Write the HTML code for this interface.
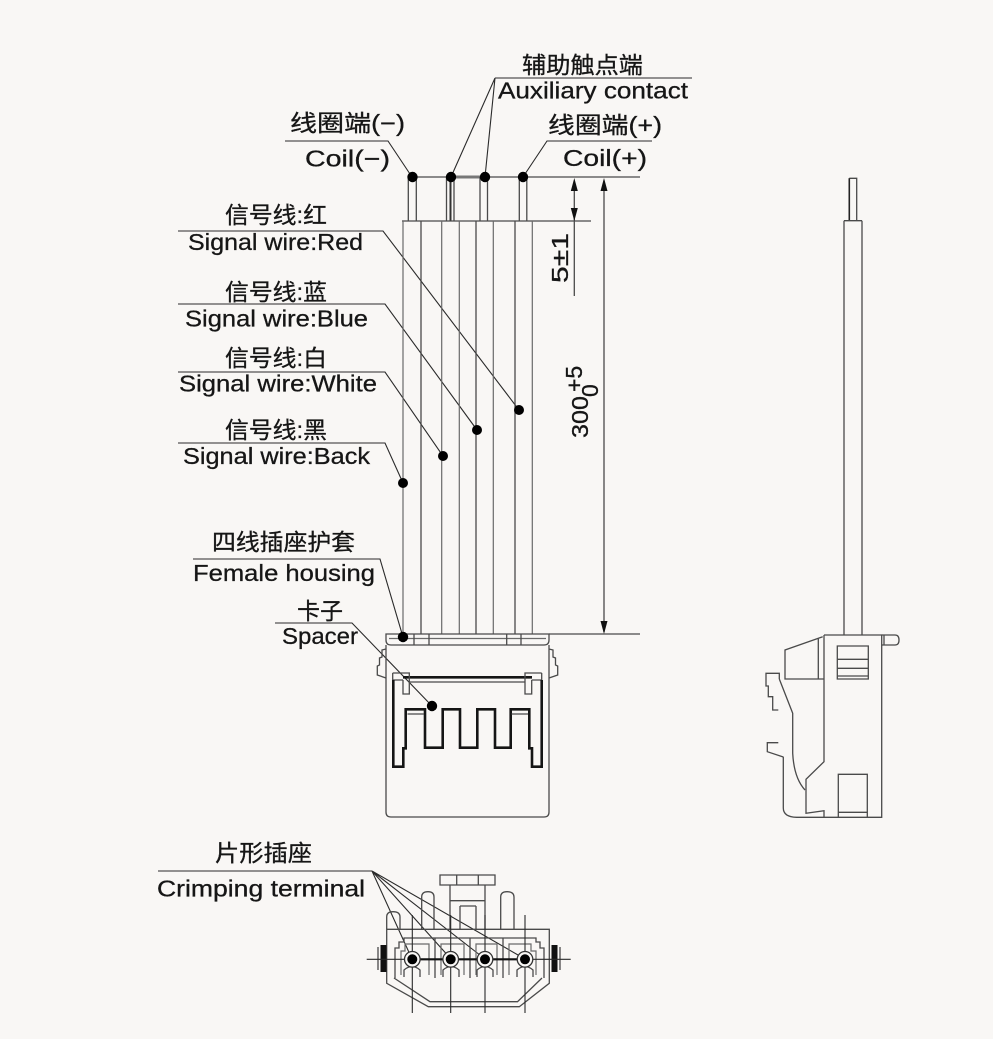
<!DOCTYPE html>
<html><head><meta charset="utf-8"><style>
html,body{margin:0;padding:0;background:#f9f7f5}
svg{display:block}
text{font-family:"Liberation Sans","Noto Sans CJK SC",sans-serif;fill:#161616;stroke:#161616;stroke-width:0.3;font-size:23px}
.l{stroke:#2a2a2a;stroke-width:1.1;fill:none}
.d{stroke:#4a4a4a;stroke-width:1.3;fill:none}
.g{stroke:#6a6a6a;stroke-width:1.2;fill:none}
.t{stroke:#151515;stroke-width:2.6;fill:none}
</style></head><body>
<svg width="993" height="1039" viewBox="0 0 993 1039" xmlns="http://www.w3.org/2000/svg">
<rect x="0" y="0" width="993" height="1039" fill="#f9f7f5"/>

<!-- ===== Labels text ===== -->
<text x="522" y="73" textLength="121" lengthAdjust="spacingAndGlyphs">辅助触点端</text>
<text x="498" y="98.5" textLength="190" lengthAdjust="spacingAndGlyphs">Auxiliary contact</text>
<text x="290" y="131" textLength="115" lengthAdjust="spacingAndGlyphs">线圈端(−)</text>
<text x="305" y="166.5" textLength="85" lengthAdjust="spacingAndGlyphs">Coil(−)</text>
<text x="548" y="133" textLength="114" lengthAdjust="spacingAndGlyphs">线圈端(+)</text>
<text x="563" y="166" textLength="84" lengthAdjust="spacingAndGlyphs">Coil(+)</text>

<text x="225" y="223" textLength="102" lengthAdjust="spacingAndGlyphs">信号线:红</text>
<text x="188" y="250" textLength="175" lengthAdjust="spacingAndGlyphs">Signal wire:Red</text>
<text x="225" y="300" textLength="102" lengthAdjust="spacingAndGlyphs">信号线:蓝</text>
<text x="185" y="326.5" textLength="183" lengthAdjust="spacingAndGlyphs">Signal wire:Blue</text>
<text x="225" y="366" textLength="102" lengthAdjust="spacingAndGlyphs">信号线:白</text>
<text x="179" y="391.5" textLength="198" lengthAdjust="spacingAndGlyphs">Signal wire:White</text>
<text x="225" y="438" textLength="102" lengthAdjust="spacingAndGlyphs">信号线:黑</text>
<text x="183" y="464" textLength="187" lengthAdjust="spacingAndGlyphs">Signal wire:Back</text>

<text x="212" y="550" textLength="143" lengthAdjust="spacingAndGlyphs">四线插座护套</text>
<text x="193" y="581" textLength="182" lengthAdjust="spacingAndGlyphs">Female housing</text>
<text x="297" y="619" textLength="46" lengthAdjust="spacingAndGlyphs">卡子</text>
<text x="282" y="644" textLength="76" lengthAdjust="spacingAndGlyphs">Spacer</text>

<text x="215" y="861" textLength="97" lengthAdjust="spacingAndGlyphs">片形插座</text>
<text x="157" y="896.5" textLength="208" lengthAdjust="spacingAndGlyphs">Crimping terminal</text>

<!-- ===== Leader lines ===== -->
<path class="l" d="M495,78 H692 M495,78 L451,177 M495,78 L485,177"/>
<path class="l" d="M285,141 H388 L412,177"/>
<path class="l" d="M652,141 H547 L523,177"/>
<path class="l" d="M178,231 H383 L519,410"/>
<path class="l" d="M178,304 H385 L477,430"/>
<path class="l" d="M178,372 H385 L443,456"/>
<path class="l" d="M178,443 H385 L403,483"/>
<path class="l" d="M193,559 H380 L403,637"/>
<path class="l" d="M275,623 H352 L432,706"/>
<path class="l" d="M158,871 H372 M372,871 L412,959 M372,871 L451,959 M372,871 L485,959 M372,871 L525,959"/>

<!-- ===== Top wires (front view) ===== -->
<path class="d" d="M412,177 H640"/>
<path d="M451,177 H485" stroke="#777" stroke-width="3" fill="none"/>
<path class="d" d="M408.3,177 V221 M416.3,177 V221 M446.5,177 V221 M454,177 V221 M480,177 V221 M487.5,177 V221 M519.3,177 V221 M526.8,177 V221"/>
<path d="M450.5,177 V221" stroke="#333" stroke-width="2" fill="none"/>
<path class="d" d="M402,221 H591"/>
<path class="g" d="M403,221 V634 M441.7,221 V634 M459.3,221 V634 M493.3,221 V634 M532.3,221 V634"/>
<path class="d" d="M421,221 V634 M476,221 V634 M515,221 V634"/>

<!-- ===== Dimensions ===== -->
<path class="d" d="M549,634 H640"/>
<path class="d" d="M604,181 V632"/>
<polygon points="604,178 600.5,191 607.5,191" fill="#111"/>
<polygon points="604,634 600.5,621 607.5,621" fill="#111"/>
<path class="d" d="M574.3,181 V296"/>
<polygon points="574.3,178 570.8,191 577.8,191" fill="#111"/>
<polygon points="574.3,221 570.8,208 577.8,208" fill="#111"/>
<text transform="translate(568,258) rotate(-90)" text-anchor="middle" font-size="23" textLength="50" lengthAdjust="spacingAndGlyphs">5±1</text>
<text transform="translate(588,438) rotate(-90)" font-size="24" textLength="42" lengthAdjust="spacingAndGlyphs">300</text>
<text transform="translate(588,438) rotate(-90)" x="46" y="-6" font-size="14">+5</text>
<text transform="translate(588,438) rotate(-90)" x="41" y="10" font-size="14">0</text>

<!-- ===== Front connector ===== -->
<path class="d" d="M386,634 H549 V640 Q549,645 544,645 H391 Q386,645 386,640 Z"/>
<path class="g" d="M389,638.5 H546"/>
<path class="d" d="M414,634 V645 M429,634 V645 M506.7,634 V645 M521,634 V645"/>
<path class="d" d="M386,645 V812 Q386,817 391,817 H544 Q549,817 549,812 V645"/>
<path class="d" d="M386,649 L382,650 V657 L379.5,658 V665 L377.3,666 V675 L386,678"/>
<path class="d" d="M549,649 L553,650 V657 L555.5,658 V665 L557.7,666 V675 L549,678"/>
<path d="M403,677.3 H532" stroke="#151515" stroke-width="2.6" fill="none"/>
<path class="d" d="M409,682 H525"/>
<path class="d" d="M392.7,673 H409.3 V694 H403 V680 M392.7,673 V680 H403"/>
<path class="d" d="M541.7,673 H525 V694 H531.7 V680 M541.7,673 V680 H531.7"/>
<path class="t" d="M393.3,680 V766.7 H403.3 V748.3 H405.7 V709.3 H425 V747.7 H442.7 V709.3 H460 V747.7 H477.3 V709.3 H495 V747.7 H510.7 V709.3 H529.3 V748.3 H532 V766.7 H541.7 V680"/>
<path class="d" d="M407.5,714 H424 M511.5,714 H528"/>

<!-- dots -->
<g fill="#000">
<circle cx="412.5" cy="177" r="5.2"/>
<circle cx="451" cy="177" r="5.2"/>
<circle cx="485" cy="177" r="5.2"/>
<circle cx="523" cy="177" r="5.2"/>
<circle cx="519" cy="410" r="5"/>
<circle cx="477" cy="430" r="5"/>
<circle cx="443" cy="456" r="5"/>
<circle cx="403" cy="483" r="5"/>
<circle cx="403" cy="637" r="5.2"/>
<circle cx="432" cy="706" r="5.2"/>
</g>

<!-- ===== Right side view ===== -->
<path class="d" d="M849.3,178.3 H856.7 V220.7 M849.3,178.3 V220.7"/>
<path d="M849.3,178.3 V220.7" stroke="#222" stroke-width="1.6"/>
<path class="d" d="M844,220.7 H862 M844,220.7 V635 M862,220.7 V635"/>
<path class="d" d="M824,635 H881.7 V817.3 H796.7 Q783.3,817 783.3,808 V756.7"/>
<path class="d" d="M881.7,635 H895 Q899,635 899,640 Q899,645 895,645 H881.7 M884,635 V645"/>
<path class="d" d="M824,635 V761.7 L806,779.3 V813.3 L824,810.7 V817.3"/>
<path class="d" d="M822.7,636.7 L785,650 V679 H824 M818.3,638 V679"/>
<path class="d" d="M779.3,679 L792.7,713.3 V753.3 Q794,778 805,790"/>
<path class="d" d="M779.3,679 V673.3 H766 V686 H768.3 V696.7 H772.7 V710 H778.3"/>
<path class="d" d="M778.3,742.7 H767.3 V751.7 L783.3,757"/>
<path class="d" d="M837.3,646 H868.3 V679 H837.3 Z M837.3,659.3 H868.3 M837.3,668.3 H868.3 M837.3,676 H868.3"/>
<path class="d" d="M838.3,817 V774.3 H867.3 V817 M838.3,812.3 H867.3"/>

<!-- ===== Bottom view ===== -->
<path class="d" d="M440,875 H495 V885 H440 Z M456.7,875 V885 M478.3,875 V885"/>
<path class="d" d="M450,885 V929 M485,885 V929 M450,900.7 H485 M460,906 V929 M476,906 V929 M460,906 H476"/>
<path class="d" d="M386.7,929 V917 Q386.7,911.7 393,911.7 Q400,911.7 400,917 V929"/>
<path class="d" d="M421.7,929 V897 Q421.7,891.7 428,891.7 Q434,891.7 434,897 V929"/>
<path class="d" d="M500.7,929 V897 Q500.7,891.7 507,891.7 Q514,891.7 514,897 V929"/>
<path class="d" d="M386.7,929.3 H549.3 V983.3 L519.3,1006.7 H428.3 L386.7,983.3 Z"/>
<path class="d" d="M394,978 L430,1001.7 H517.5 L542,978"/>
<path class="d" d="M395,978 V948 H399 V942 H404 V938 H536 V942 H540 V948 H544 V978"/>
<path class="d" d="M435,938 V978 M470,938 V978 M503,938 V978"/>
<path class="g" d="M401,975 V951 H405 V944 H429 V975 M441,975 V944 H464 V975 M476,975 V944 H497 V975 M509,975 V944 H531 V951 H536 V975"/>
<g class="d">
<path d="M404,977 V970 Q412,963 420,970 V977"/>
<path d="M443,977 V970 Q451,963 459,970 V977"/>
<path d="M477,977 V970 Q485,963 493,970 V977"/>
<path d="M517,977 V970 Q525,963 533,970 V977"/>
</g>
<rect x="380.5" y="945" width="6" height="27" fill="#111"/>
<rect x="551.5" y="945" width="6" height="27" fill="#111"/>
<path class="d" d="M378,947 V970 M560,947 V970"/>
<path class="l" d="M366.7,959.3 H570.7"/>
<path d="M412,959.3 H525" stroke="#111" stroke-width="2.2"/>
<path class="l" d="M412.3,915 V1013 M450.7,915 V1013 M485,915 V1013 M525,915 V1013"/>
<g>
<circle cx="412.3" cy="959.3" r="7.8" fill="#f9f7f5" stroke="#333" stroke-width="1.3"/>
<circle cx="450.7" cy="959.3" r="7.8" fill="#f9f7f5" stroke="#333" stroke-width="1.3"/>
<circle cx="485" cy="959.3" r="7.8" fill="#f9f7f5" stroke="#333" stroke-width="1.3"/>
<circle cx="525" cy="959.3" r="7.8" fill="#f9f7f5" stroke="#333" stroke-width="1.3"/>
<circle cx="412.3" cy="959.3" r="5" fill="#000"/>
<circle cx="450.7" cy="959.3" r="5" fill="#000"/>
<circle cx="485" cy="959.3" r="5" fill="#000"/>
<circle cx="525" cy="959.3" r="5" fill="#000"/>
</g>
</svg>
</body></html>
